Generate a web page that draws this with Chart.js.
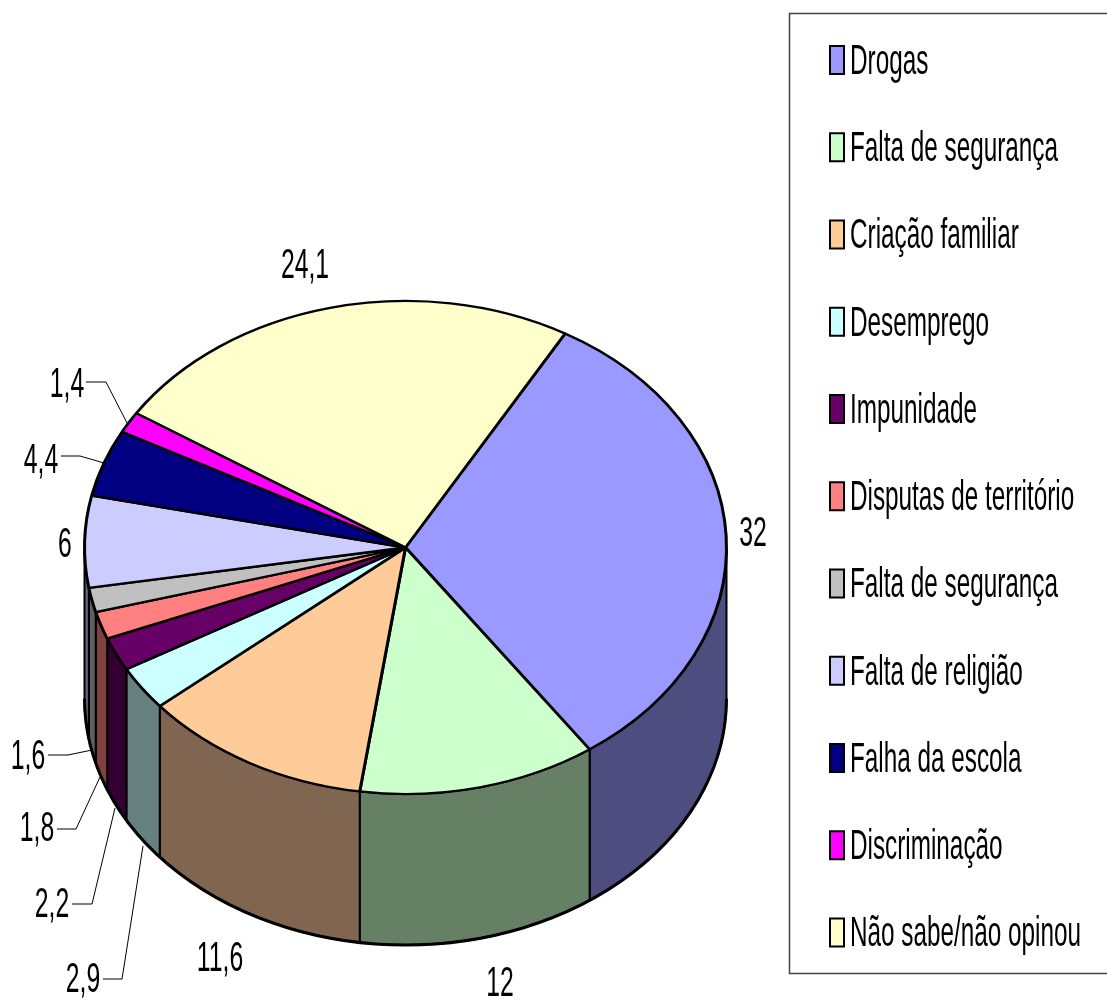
<!DOCTYPE html>
<html lang="pt">
<head>
<meta charset="utf-8">
<script src="https://cdn.jsdelivr.net/npm/chart.js@4"></script>
<style>
html,body{margin:0;padding:0;background:#fff}
canvas{display:block}
</style>
</head>
<body>
<canvas id="c" width="1107" height="1000"></canvas>
<script>
const categories = ['Drogas','Falta de segurança','Criação familiar','Desemprego','Impunidade','Disputas de território','Falta de segurança','Falta de religião','Falha da escola','Discriminação','Não sabe/não opinou'];
const values = [32,12,11.6,2.9,2.2,1.8,1.6,6,4.4,1.4,24.1];
const topColors = ['#9999FF','#CCFFCC','#FFCC99','#CCFFFF','#660066','#FF8080','#C0C0C0','#CCCCFF','#000080','#FF00FF','#FFFFCC'];
const wallColors = ['#4D4D80','#668066','#806650','#668080','#330033','#804040','#606060','#666680','#000040','#800080','#808066'];

// label placement: text centre x, centre y, then optional leader polyline
const labelPlaces = [
  {x:753,y:534},{x:500,y:984},{x:220,y:959},
  {x:83,y:980,leader:[[103,979],[122,979],[143,846]]},
  {x:52,y:905,leader:[[72,904],[92,904],[115,808]]},
  {x:37,y:829,leader:[[57,829],[76,829],[100,777]]},
  {x:28,y:757,leader:[[48,755],[68,755],[92,750]]},
  {x:65,y:545},
  {x:41,y:461,leader:[[61,456],[80,456],[104,463]]},
  {x:67,y:385,leader:[[86,382],[106,382],[127,423]]},
  {x:305,y:266}
];

const RADIUS = 321, SQUASH = 246.5/RADIUS, DEPTH = 151, FONT = '"Liberation Sans", Arial, sans-serif';

function narrowText(ctx, text, x, y, size, xscale, align){
  ctx.save();
  ctx.translate(x, y);
  ctx.scale(xscale, 1);
  ctx.font = size + 'px ' + FONT;
  ctx.textAlign = align;
  ctx.textBaseline = 'middle';
  ctx.fillStyle = '#000';
  ctx.fillText(text, 0, 0);
  ctx.restore();
}

const pie3d = {
  id:'pie3d',
  beforeDatasetsDraw(chart){
    const ctx = chart.ctx, arcs = chart.getDatasetMeta(0).data;
    const cx = arcs[0].x, cy = arcs[0].y, rx = arcs[0].outerRadius, ry = rx*SQUASH;
    ctx.save();
    ctx.lineWidth = 2;
    ctx.strokeStyle = '#000';
    ctx.lineJoin = 'round';
    arcs.forEach((a,i)=>{
      const s = Math.max(a.startAngle,0), e = Math.min(a.endAngle,Math.PI);
      if(e<=s) return;
      ctx.beginPath();
      ctx.ellipse(cx,cy,rx,ry,0,s,e);
      ctx.ellipse(cx,cy+DEPTH,rx,ry,0,e,s,true);
      ctx.closePath();
      ctx.fillStyle = wallColors[i];
      ctx.fill();
      ctx.stroke();
    });
    ctx.lineWidth = 3;
    ctx.beginPath();
    ctx.ellipse(cx,cy+DEPTH,rx,ry,0,0,Math.PI);
    ctx.stroke();
    ctx.restore();
    ctx.save();
    ctx.translate(cx,cy);
    ctx.scale(1,SQUASH);
    ctx.translate(-cx,-cy);
  },
  afterDatasetsDraw(chart){
    const ctx = chart.ctx;
    ctx.restore();
    // value labels and leader lines
    ctx.save();
    ctx.strokeStyle = '#000';
    ctx.lineWidth = 1;
    labelPlaces.forEach((p,i)=>{
      if(p.leader){
        ctx.beginPath();
        p.leader.forEach((q,k)=> k?ctx.lineTo(q[0],q[1]):ctx.moveTo(q[0],q[1]));
        ctx.stroke();
      }
      narrowText(ctx,String(values[i]).replace('.',','),p.x,p.y,42,0.59,'center');
    });
    // legend
    ctx.strokeStyle = '#444';
    ctx.lineWidth = 1.5;
    ctx.strokeRect(789.5,13.5,330,960);
    categories.forEach((name,i)=>{
      const y = 60 + i*87.25;
      ctx.fillStyle = topColors[i];
      ctx.strokeStyle = '#000';
      ctx.lineWidth = 2;
      ctx.fillRect(830,y-14,14,28);
      ctx.strokeRect(830,y-14,14,28);
      narrowText(ctx,name,850,y+2,43,0.565,'left');
    });
    ctx.restore();
  }
};

new Chart(document.getElementById('c'),{
  type:'pie',
  data:{labels:categories,datasets:[{data:values,backgroundColor:topColors,borderColor:'#000',borderWidth:3,clip:false}]},
  options:{
    responsive:false,
    animation:false,
    rotation:29.8,
    layout:{padding:{left:83,right:379,top:224,bottom:129}},
    plugins:{legend:{display:false},tooltip:{enabled:false}},
    events:[]
  },
  plugins:[pie3d]
});
</script>
</body>
</html>
